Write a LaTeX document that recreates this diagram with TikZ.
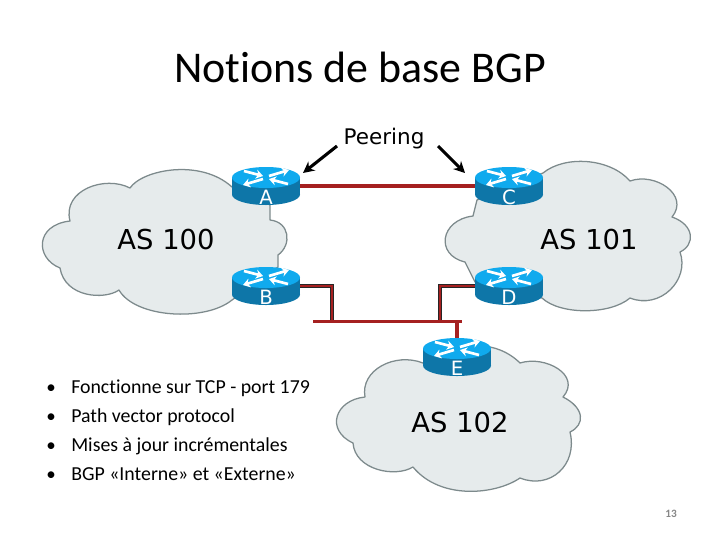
\documentclass[tikz,border=0pt]{standalone}
\usepackage{fontspec}
\setmainfont[Ligatures=NoCommon]{Carlito}
\newfontfamily\verdfont{DejaVu Sans}
\usetikzlibrary{positioning, arrows.meta, calc}
\definecolor{cloudfill}{RGB}{230, 235, 236}
\definecolor{cloudline}{RGB}{125, 138, 140}
\definecolor{routertop}{RGB}{16, 170, 238}
\definecolor{routerside}{RGB}{14, 118, 168}
\definecolor{linkred}{RGB}{165, 32, 32}
\definecolor{pagegray}{RGB}{135, 135, 135}
\tikzset{
  cloudshape/.style={fill=cloudfill, draw=cloudline, line width=0.9pt, line join=round},
  routerbox/.style={minimum width=1.7cm, minimum height=0.95cm, inner sep=0pt},
  routerlabel/.style={text=white, inner sep=0pt, font=\verdfont\fontsize{14}{14}\selectfont},
  routerarrow/.style={white, line width=1.9pt, -{Stealth[length=5pt, width=6.5pt]}},
  aslabel/.style={inner sep=0pt, font=\verdfont\fontsize{19.5}{21}\selectfont},
  link/.style={linkred, line width=2.2pt},
  linkedge/.style={black!85, line width=2.3pt},
  linkface/.style={linkred, line width=1.9pt},
  peerarrow/.style={black, line width=2.2pt, -{Stealth[length=8pt, width=8pt]}},
  bulletmark/.style={anchor=base, inner sep=0pt, font=\fontsize{13.5}{14}\selectfont},
  itemtext/.style={anchor=base west, inner sep=0pt, font=\fontsize{14.1}{16}\selectfont},
}
% router icon: name, position, label
\newcommand{\router}[3]{
  \begin{scope}[shift={(#2)}]
    \fill[routerside] (0,8.5) ellipse [x radius=34, y radius=10.5];
    \fill[routerside] (-34,-8.5) rectangle (34,8.5);
    \fill[routertop] (0,-8.5) ellipse [x radius=34, y radius=10.5];
    \draw[routerarrow] (-22,-15) -- (-3,-10);
    \draw[routerarrow] (3,-10) -- (23,-16);
    \draw[routerarrow] (-3,-7) -- (-23,-1);
    \draw[routerarrow] (22,-2) -- (3,-7);
  \end{scope}
  \node[routerbox] (#1) at (#2) {};
  \node[routerlabel] (#1label) at ($(#2)+(0,11)$) {#3};
}
\begin{document}
\begin{tikzpicture}[x=0.025cm, y=-0.025cm]
  \useasboundingbox (0,0) rectangle (720,540);
  \node[inner sep=0pt, font=\fontsize{31.2}{34}\selectfont] (title) at (360,67) {Notions de base BGP};

  % clouds
  \draw[cloudshape] (130,188) .. controls (142,170) and (200,158) .. (232,187)
    -- (270,205) -- (270,220)
    .. controls (290,222) and (292,245) .. (278,255) -- (278,267) -- (232,300)
    .. controls (205,322) and (135,318) .. (119,290)
    .. controls (105,300) and (65,298) .. (60,268)
    .. controls (35,258) and (35,225) .. (70,221)
    .. controls (62,190) and (105,175) .. (130,188) -- cycle;
  \draw[cloudshape] (543,173) .. controls (565,155) and (610,158) .. (630,181)
    .. controls (655,172) and (690,195) .. (672,217)
    .. controls (695,225) and (695,245) .. (680,252)
    .. controls (690,280) and (660,310) .. (630,298)
    .. controls (610,315) and (560,315) .. (542,298) -- (475,282)
    -- (465,262)
    .. controls (435,255) and (440,220) .. (473,216) -- (477,200) -- cycle;
  \draw[cloudshape] (490,347) .. controls (505,350) and (515,358) .. (520,363)
    .. controls (545,355) and (582,375) .. (563,397)
    .. controls (585,408) and (585,425) .. (570,432)
    .. controls (578,465) and (550,490) .. (520,478)
    .. controls (495,495) and (440,500) .. (413,467)
    .. controls (395,478) and (355,470) .. (353,443)
    .. controls (325,430) and (335,400) .. (365,397)
    .. controls (360,370) and (395,352) .. (423,363) -- cycle;

  % routers
  \router{A}{266,186}{A}
  \router{C}{509,186}{C}
  \router{B}{266,286}{B}
  \router{D}{509,286}{D}
  \router{E}{457,357}{E}

  \node[aslabel] (as100) at (166,240) {AS 100};
  \node[aslabel] (as101) at (589,240) {AS 101};
  \node[aslabel] (as102) at (460,423) {AS 102};
  \node[inner sep=0pt, font=\verdfont\fontsize{15.3}{17}\selectfont] (peering) at (384,139) {Peering};

  % links
  \coordinate (busleft) at (313,321.5);
  \coordinate (busright) at (462,321.5);
  \coordinate (tapB) at (332,321.5);
  \coordinate (tapD) at (440,321.5);
  \coordinate (tapE) at (457,321.5);
  \draw[link] (A.east) -- (C.west);
  \draw[linkedge] (B.east) -| (tapB);
  \draw[linkedge] (D.west) -| (tapD);
  \draw[linkface, xshift=-0.3pt, yshift=0.4pt] (B.east) -| (tapB);
  \draw[linkface, xshift=0.3pt, yshift=0.4pt] (D.west) -| (tapD);
  \draw[link] (busleft) -- (busright);
  \draw[link] (E.north) -- (tapE);

  % peering arrows
  \coordinate (peerleft) at (337,146);
  \coordinate (tipleft) at (303,173);
  \coordinate (peerright) at (438,146);
  \coordinate (tipright) at (465,173);
  \draw[peerarrow] (peerleft) -- (tipleft);
  \draw[peerarrow] (peerright) -- (tipright);

  % bullets
  \node[bulletmark] (b1) at (51,393) {•};
  \node[bulletmark] (b2) at (51,422) {•};
  \node[bulletmark] (b3) at (51,451) {•};
  \node[bulletmark] (b4) at (51,480) {•};
  \node[itemtext] (item1) at (71,393) {Fonctionne sur TCP - port 179};
  \node[itemtext] (item2) at (71,422) {Path vector protocol};
  \node[itemtext] (item3) at (71,451) {Mises à jour incrémentales};
  \node[itemtext] (item4) at (71,480) {BGP «Interne» et «Externe»};

  \node[inner sep=0pt, text=pagegray, font=\bfseries\fontsize{8}{9}\selectfont] (pagenum) at (671,514) {13};
\end{tikzpicture}
\end{document}
